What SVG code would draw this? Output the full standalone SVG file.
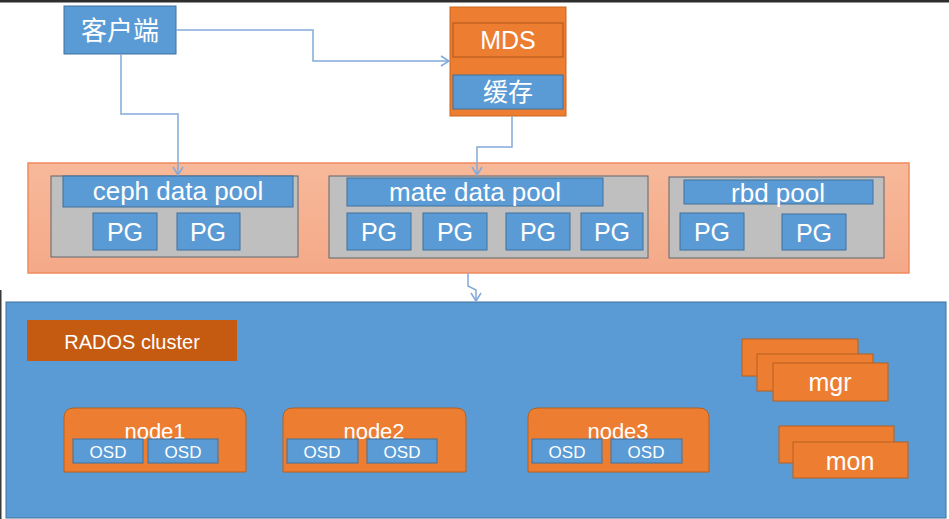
<svg xmlns="http://www.w3.org/2000/svg" width="949" height="519" viewBox="0 0 949 519">
<defs>
<style>
.t{font-family:"Liberation Sans",Arial,sans-serif;fill:#fff;text-anchor:middle}
.cjk{font-family:"Liberation Serif","Noto Sans CJK SC",serif;fill:#fff;text-anchor:middle}
.blue{fill:#5B9BD5;stroke:#41719C;stroke-width:1}
.org{fill:#ED7D31;stroke:#B5601F;stroke-width:1}
.gray{fill:#BFBFBF;stroke:#5F6670;stroke-width:1}
.conn{fill:none;stroke:#82A9DA;stroke-width:1.5}
</style>
<linearGradient id="poolg" x1="0" y1="0" x2="0" y2="1">
<stop offset="0" stop-color="#F7B99A"/>
<stop offset="1" stop-color="#F4A988"/>
</linearGradient>
<marker id="arr" markerWidth="12" markerHeight="12" refX="9" refY="6" orient="auto" markerUnits="userSpaceOnUse">
<path d="M1,1 L9,6 L1,11" fill="none" stroke="#82A9DA" stroke-width="1.5"/>
</marker>
</defs>
<rect x="0" y="0" width="949" height="519" fill="#fff"/>
<rect x="0" y="0" width="949" height="2.5" fill="#2E2E2E"/>
<rect x="0" y="290" width="1.5" height="229" fill="#3A3A3A"/>

<g id="client">
<rect class="blue" x="64" y="6" width="112" height="48"/>
<text class="cjk" x="120" y="40" font-size="26">客户端</text>
</g>

<g id="mds">
<rect x="450" y="7" width="116" height="109" fill="#ED7D31" stroke="#C8661F"/>
<rect x="453" y="23" width="110" height="34" fill="#ED7D31" stroke="#B0541A"/>
<text class="t" x="508" y="49" font-size="25">MDS</text>
<rect class="blue" x="453" y="75" width="110" height="34"/>
<text class="cjk" x="508" y="101" font-size="25">缓存</text>
</g>

<g id="pools">
<rect x="28" y="163" width="881" height="110" fill="url(#poolg)" stroke="#F08A5D" stroke-width="1.5"/>
</g>

<g id="ceph-data-pool">
<rect class="gray" x="51" y="176" width="247" height="81"/>
<rect class="blue" x="63" y="176" width="230" height="31"/>
<text class="t" x="178" y="200" font-size="26">ceph data pool</text>
<rect class="blue" x="93" y="213" width="64" height="37"/>
<text class="t" x="125" y="241" font-size="25">PG</text>
<rect class="blue" x="177" y="213" width="63" height="37"/>
<text class="t" x="208" y="241" font-size="25">PG</text>
</g>

<g id="mate-data-pool">
<rect class="gray" x="329" y="176" width="319" height="82"/>
<rect class="blue" x="347" y="178" width="256" height="28"/>
<text class="t" x="475" y="201" font-size="26">mate data pool</text>
<rect class="blue" x="347" y="213" width="64" height="37"/>
<text class="t" x="379" y="241" font-size="25">PG</text>
<rect class="blue" x="423" y="213" width="64" height="37"/>
<text class="t" x="455" y="241" font-size="25">PG</text>
<rect class="blue" x="506" y="213" width="64" height="37"/>
<text class="t" x="538" y="241" font-size="25">PG</text>
<rect class="blue" x="581" y="213" width="62" height="37"/>
<text class="t" x="612" y="241" font-size="25">PG</text>
</g>

<g id="rbd-pool">
<rect class="gray" x="669" y="177" width="215" height="81"/>
<rect class="blue" x="684" y="180" width="189" height="24"/>
<text class="t" x="778" y="202" font-size="26">rbd pool</text>
<rect class="blue" x="680" y="213" width="64" height="37"/>
<text class="t" x="712" y="241" font-size="25">PG</text>
<rect class="blue" x="782" y="214" width="64" height="36"/>
<text class="t" x="814" y="242" font-size="25">PG</text>
</g>

<g id="rados">
<rect x="6" y="302" width="940" height="216" fill="#5B9BD5" stroke="#41719C"/>
</g>

<g id="rados-label">
<rect x="27" y="320" width="210" height="41" fill="#C55A11"/>
<text class="t" x="132" y="349" font-size="20">RADOS cluster</text>
</g>

<g id="node1">
<path class="org" d="M64,472 V418 Q64,408 74,408 H236 Q246,408 246,418 V472 Z"/>
<text class="t" x="155" y="439" font-size="22">node1</text>
<rect class="blue" x="73" y="439" width="70" height="24"/>
<text class="t" x="108" y="458" font-size="17" fill="#DDEBF7">OSD</text>
<rect class="blue" x="148" y="439" width="70" height="24"/>
<text class="t" x="183" y="458" font-size="17">OSD</text>
</g>

<g id="node2">
<path class="org" d="M283,472 V418 Q283,408 293,408 H456 Q466,408 466,418 V472 Z"/>
<text class="t" x="374" y="439" font-size="22">node2</text>
<rect class="blue" x="287" y="439" width="71" height="24"/>
<text class="t" x="322" y="458" font-size="17">OSD</text>
<rect class="blue" x="367" y="439" width="70" height="24"/>
<text class="t" x="402" y="458" font-size="17">OSD</text>
</g>

<g id="node3">
<path class="org" d="M528,472 V418 Q528,408 538,408 H699 Q709,408 709,418 V472 Z"/>
<text class="t" x="618" y="439" font-size="22">node3</text>
<rect class="blue" x="532" y="439" width="70" height="24"/>
<text class="t" x="567" y="458" font-size="17">OSD</text>
<rect class="blue" x="611" y="439" width="71" height="24"/>
<text class="t" x="646" y="458" font-size="17">OSD</text>
</g>

<g id="mgr">
<rect class="org" x="742" y="339" width="116" height="37"/>
<rect class="org" x="757" y="354" width="116" height="37"/>
<rect class="org" x="773" y="363" width="115" height="38"/>
<text class="t" x="830" y="391" font-size="25">mgr</text>
</g>

<g id="mon">
<rect class="org" x="779" y="426" width="115" height="37"/>
<rect class="org" x="793" y="442" width="115" height="36"/>
<text class="t" x="850" y="470" font-size="25">mon</text>
</g>

<g id="connectors">
<path class="conn" d="M176,30 H313 V61 H449" marker-end="url(#arr)"/>
<path class="conn" d="M121,54 V114 H178 V175" marker-end="url(#arr)"/>
<path class="conn" d="M512,116 V147 H477 V175" marker-end="url(#arr)"/>
<path class="conn" d="M468,273 V286 L476,290 V301" marker-end="url(#arr)"/>
</g>
</svg>
